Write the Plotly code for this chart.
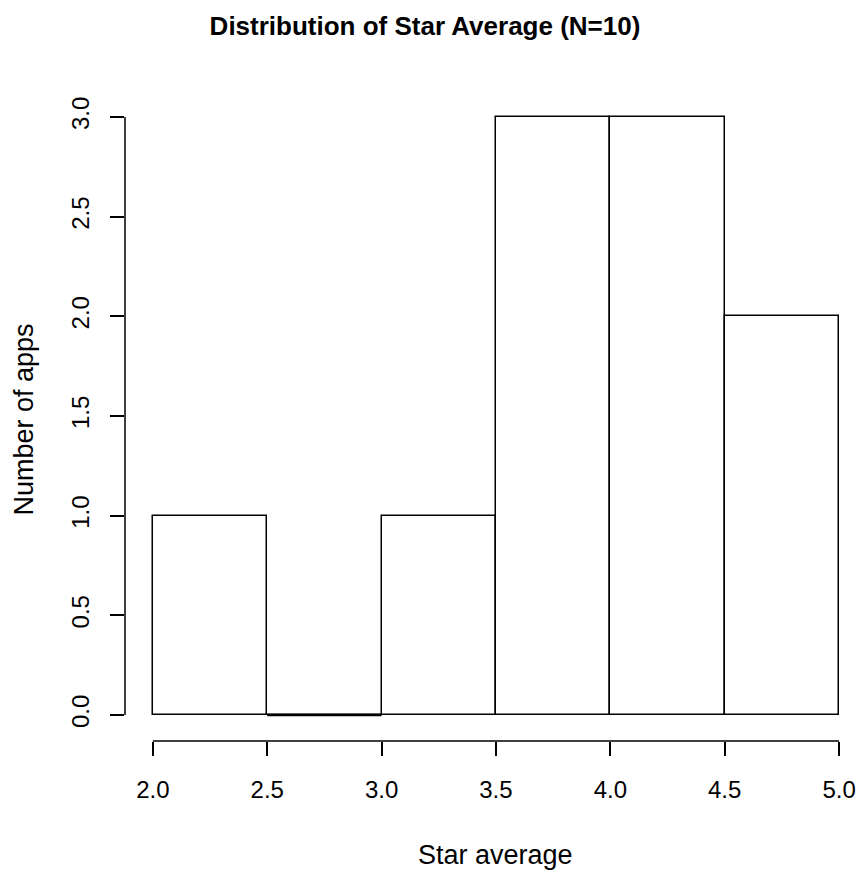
import plotly.graph_objects as go

# Data
bin_starts = [2.0, 2.5, 3.0, 3.5, 4.0, 4.5]
bin_width = 0.5
counts = [1, 0, 1, 3, 3, 2]
x_ticks = [2.0, 2.5, 3.0, 3.5, 4.0, 4.5, 5.0]
x_tick_labels = ["2.0", "2.5", "3.0", "3.5", "4.0", "4.5", "5.0"]
y_ticks = [0.0, 0.5, 1.0, 1.5, 2.0, 2.5, 3.0]
y_tick_labels = ["0.0", "0.5", "1.0", "1.5", "2.0", "2.5", "3.0"]

W, H = 856, 874
ML, MR, MT, MB = 125, 0, 93, 133
FONT = "Liberation Sans, Arial, sans-serif"
LW = 1.5

centers = [s + bin_width / 2 for s in bin_starts]

fig = go.Figure()
fig.add_trace(go.Bar(
    x=centers, y=counts, width=[bin_width] * len(counts),
    marker=dict(color="white", line=dict(color="black", width=LW)),
    showlegend=False, hoverinfo="skip",
))

# empty bins are drawn by R as a flat (zero-height) rectangle
zx, zy = [], []
for s, c in zip(bin_starts, counts):
    if c == 0:
        zx += [s, s + bin_width, None]
        zy += [c, c, None]
fig.add_trace(go.Scatter(x=zx, y=zy, mode="lines",
                         line=dict(color="black", width=2.6),
                         showlegend=False, hoverinfo="skip"))

# axis lines spanning only first..last tick (R style)
fig.add_shape(type="line", xref="x", yref="paper",
              x0=x_ticks[0], x1=x_ticks[-1], y0=0, y1=0,
              line=dict(color="black", width=LW))
fig.add_shape(type="line", xref="paper", yref="y",
              x0=0, x1=0, y0=y_ticks[0], y1=y_ticks[-1],
              line=dict(color="black", width=LW))

xr = [2.0 - 28 / 230, 5.0 + 13 / 230]
yr = [0 - 26 / 199.33, 3 + 24 / 199.33]

fig.update_layout(
    width=W, height=H,
    margin=dict(l=ML, r=MR, t=MT, b=MB, pad=0),
    plot_bgcolor="white", paper_bgcolor="white",
    font=dict(family=FONT, size=24, color="black"),
    bargap=0,
    title=dict(text="<b>Distribution of Star Average (N=10)</b>",
               x=425 / W, xanchor="center", xref="container",
               y=1 - 26 / H, yanchor="middle",
               font=dict(family=FONT, size=26, color="black")),
    xaxis=dict(range=xr, tickmode="array", tickvals=x_ticks, ticktext=x_tick_labels,
               ticks="outside", ticklen=14, tickwidth=LW, tickcolor="black",
               showline=False, showgrid=False, zeroline=False,
               tickfont=dict(size=24), ticklabelstandoff=13,
               ticklabeloverflow="allow"),
    yaxis=dict(range=yr, tickmode="array", tickvals=y_ticks, ticktext=y_tick_labels,
               ticks="outside", ticklen=14, tickwidth=LW, tickcolor="black",
               showline=False, showgrid=False, zeroline=False,
               tickangle=-90, tickfont=dict(size=24), ticklabelstandoff=11),
)

pw = W - ML - MR
ph = H - MT - MB
fig.add_annotation(text="Star average", xref="paper", yref="paper",
                   x=(498 - ML) / pw, y=(H - MB - 855) / ph,
                   xanchor="center", yanchor="middle", showarrow=False,
                   font=dict(family=FONT, size=27))
fig.add_annotation(text="Number of apps", xref="paper", yref="paper",
                   x=(23 - ML) / pw, y=(H - MB - 420) / ph, textangle=-90,
                   xanchor="center", yanchor="middle", showarrow=False,
                   font=dict(family=FONT, size=27))

fig.write_html(
    "out.html",
    config={"displayModeBar": False},
    post_script="document.body.style.margin='0';document.body.style.overflow='hidden';",
)
